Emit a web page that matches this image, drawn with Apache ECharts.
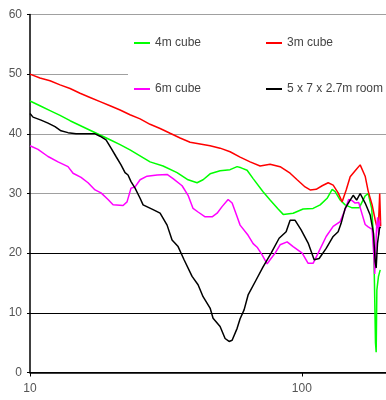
<!DOCTYPE html>
<html>
<head>
<meta charset="utf-8">
<script src="https://cdn.jsdelivr.net/npm/echarts@6/dist/echarts.min.js"></script>
<style>
html,body{margin:0;padding:0;background:#fff;}
#chart{width:386px;height:400px;}
</style>
</head>
<body>
<div id="chart"></div>
<script>
// Frequency (log axis) tick labels and value ticks
var xTickValues = [10, 100];
var seriesNames = ['4m cube', '3m cube', '6m cube', '5 x 7 x 2.7m room'];

// [frequency, level] pairs
var cube3m = [
  [10, 50.0], [10.88, 49.35], [11.85, 48.9], [12.90, 48.2], [14.04, 47.6], [15.28, 46.8],
  [16.63, 46.1], [18.10, 45.4], [19.70, 44.7], [21.45, 44.0], [23.33, 43.2], [25.41, 42.5],
  [27.65, 41.6], [30.10, 40.9], [32.76, 40.1], [35.66, 39.3], [38.81, 38.6], [42.24, 38.3],
  [45.97, 38.0], [50.04, 37.6], [54.46, 37.0], [59.28, 36.1], [64.52, 35.3], [70.22, 34.6],
  [76.43, 34.9], [83.19, 34.5], [90.55, 33.4], [96.1, 32.3], [102.8, 31.1], [107.3, 30.6],
  [112.9, 30.7], [118.8, 31.3], [125.0, 31.8], [130.4, 31.4], [136.0, 30.1], [140.7, 28.6],
  [145.6, 30.6], [150.6, 32.8], [157.1, 33.8], [163.9, 34.8], [171.0, 32.9], [175.4, 30.4],
  [181.4, 28.1], [186.1, 25.6], [189.3, 24.2], [191.7, 25.6], [193.4, 30.0], [195.0, 24.5]
];
var cube4m = [
  [10, 45.5], [10.88, 44.7], [11.85, 43.9], [12.90, 43.1], [14.04, 42.2], [15.28, 41.4],
  [16.63, 40.6], [18.10, 39.8], [19.70, 39.0], [21.45, 38.2], [23.33, 37.3], [27.65, 35.3],
  [30.87, 34.6], [34.75, 33.5], [38.15, 32.3], [41.17, 31.8], [43.32, 32.3], [45.97, 33.3],
  [50.04, 33.8], [54.46, 34.0], [57.8, 34.5], [59.8, 34.3], [62.9, 33.9], [66.2, 32.5],
  [72.0, 30.3], [76.43, 28.9], [81.8, 27.4], [85.4, 26.5], [92.9, 26.7], [101.1, 27.4],
  [110.0, 27.5], [116.8, 28.1], [123.9, 29.2], [129.3, 30.7], [132.6, 30.3], [138.4, 28.9],
  [144.3, 28.1], [153.1, 27.6], [162.5, 27.6], [171.0, 29.6], [175.4, 30.0], [180.7, 27.5],
  [183.5, 22.8], [185.0, 15.0], [186.6, 5.0], [187.7, 3.4], [188.8, 13.8], [191.4, 16.1],
  [194.2, 17.2]
];
var cube6m = [
  [10, 38.0], [10.70, 37.4], [11.65, 36.2], [12.68, 35.3], [13.80, 34.5], [14.40, 33.4],
  [15.41, 32.7], [16.35, 31.8], [17.35, 30.6], [18.25, 30.1], [19.37, 29.0], [20.21, 28.1],
  [22.00, 28.0], [22.75, 28.6], [23.53, 30.9], [24.35, 31.1], [25.41, 32.3], [26.95, 32.9],
  [29.35, 33.1], [31.94, 33.2], [33.60, 32.5], [36.27, 31.3], [38.15, 29.7], [39.80, 27.5],
  [41.52, 26.9], [44.08, 26.1], [46.77, 26.1], [48.79, 26.7], [50.88, 27.8], [53.56, 29.0],
  [55.41, 28.4], [57.8, 26.1], [59.28, 24.7], [63.44, 23.0], [66.2, 21.6], [68.46, 21.0],
  [71.43, 19.7], [74.53, 18.2], [76.43, 18.9], [79.74, 20.0], [83.19, 21.4], [88.30, 21.9],
  [92.9, 21.1], [100.3, 20.0], [105.5, 18.3], [110.0, 18.3], [114.8, 20.0], [122.9, 22.8],
  [130.4, 24.5], [138.4, 25.3], [144.3, 27.3], [148.7, 29.0], [153.1, 28.8], [157.1, 28.4],
  [161.9, 28.5], [166.7, 26.5], [171.0, 24.8], [175.4, 24.4], [181.4, 24.0], [183.8, 20.0],
  [185.4, 16.5], [186.9, 20.5], [188.5, 24.5], [190.1, 26.0], [191.7, 23.0], [193.4, 25.5]
];
var room = [
  [10, 43.4], [10.26, 42.8], [10.98, 42.3], [11.65, 41.8], [12.36, 41.2], [13.00, 40.5],
  [13.80, 40.2], [14.77, 40.0], [15.94, 40.0], [17.35, 40.0], [18.10, 39.6], [19.04, 39.0],
  [19.87, 37.6], [20.72, 36.2], [21.62, 34.8], [22.37, 33.5], [22.94, 33.1], [23.53, 32.0],
  [24.35, 30.9], [25.41, 29.2], [26.06, 28.1], [28.36, 27.3], [30.10, 26.7], [31.94, 24.7],
  [33.31, 22.2], [35.06, 21.1], [36.88, 18.9], [39.47, 16.1], [41.52, 14.7], [43.32, 12.7],
  [45.97, 10.8], [47.15, 9.1], [50.04, 7.7], [52.20, 5.7], [54.0, 5.2], [55.41, 5.4],
  [57.8, 7.4], [59.28, 9.0], [61.32, 10.5], [63.44, 13.0], [67.88, 15.5], [72.0, 17.7],
  [77.09, 20.0], [82.49, 22.5], [87.55, 23.6], [90.55, 25.5], [94.47, 25.5], [99.4, 23.9],
  [105.5, 21.7], [111.0, 18.9], [115.8, 19.1], [122.9, 20.8], [130.4, 22.8], [136.0, 23.6],
  [139.5, 25.0], [144.3, 27.5], [150.6, 28.9], [154.5, 29.7], [159.1, 28.9], [163.9, 30.0],
  [171.0, 28.4], [178.4, 26.4], [183.5, 23.3], [186.1, 18.6], [187.7, 17.5], [189.8, 21.6],
  [193.1, 24.2], [195.0, 24.4]
];

var chart = echarts.init(document.getElementById('chart'));
var font = 'Liberation Sans, Arial, sans-serif';
var legendBase = {
  orient: 'horizontal', padding: 0, icon: 'rect', itemWidth: 16, itemHeight: 2,
  selectedMode: false, textStyle: {fontSize: 12, color: '#444', fontFamily: font}
};
function leg(name, left, top) {
  return Object.assign({}, legendBase, {data: [name], left: left, top: top});
}
function line(name, color, data) {
  return {
    name: name, type: 'line', data: data, showSymbol: false, symbol: 'none',
    lineStyle: {color: color, width: 1.5}, itemStyle: {color: color}, z: 3
  };
}
chart.setOption({
  animation: false,
  backgroundColor: '#fff',
  grid: {left: 30, top: 14.5, right: 0, bottom: 27.5},
  graphic: [{
    type: 'rect', z: 1, silent: true,
    shape: {x: 128, y: 20, width: 258, height: 86},
    style: {fill: '#fff'}
  }],
  legend: [
    leg(seriesNames[0], 134, 37),
    leg(seriesNames[1], 266, 37),
    leg(seriesNames[2], 134, 83),
    leg(seriesNames[3], 266, 83)
  ],
  xAxis: {
    type: 'log', logBase: 10, min: 10, max: 204,
    axisLine: {lineStyle: {color: '#000', width: 1.5}},
    axisTick: {show: true, customValues: xTickValues, length: 4, lineStyle: {color: '#000'}},
    axisLabel: {customValues: xTickValues, margin: 10, fontSize: 12, color: '#555', fontFamily: font},
    splitLine: {show: false},
    minorTick: {show: false}
  },
  yAxis: {
    type: 'value', min: 0, max: 60, interval: 10,
    axisLine: {show: true, lineStyle: {color: '#000', width: 1.5}},
    axisTick: {show: true, length: 3, lineStyle: {color: '#000'}},
    axisLabel: {margin: 8, fontSize: 12, color: '#555', fontFamily: font},
    splitLine: {show: true, lineStyle: {
      color: ['#000', '#000', '#000', '#a0a0a0', '#a0a0a0', '#a0a0a0', '#a0a0a0'],
      width: 1.2
    }}
  },
  series: [
    line(seriesNames[0], '#00ff00', cube4m),
    line(seriesNames[1], '#ff0000', cube3m),
    line(seriesNames[2], '#ff00ff', cube6m),
    line(seriesNames[3], '#000000', room)
  ]
});
</script>
</body>
</html>
